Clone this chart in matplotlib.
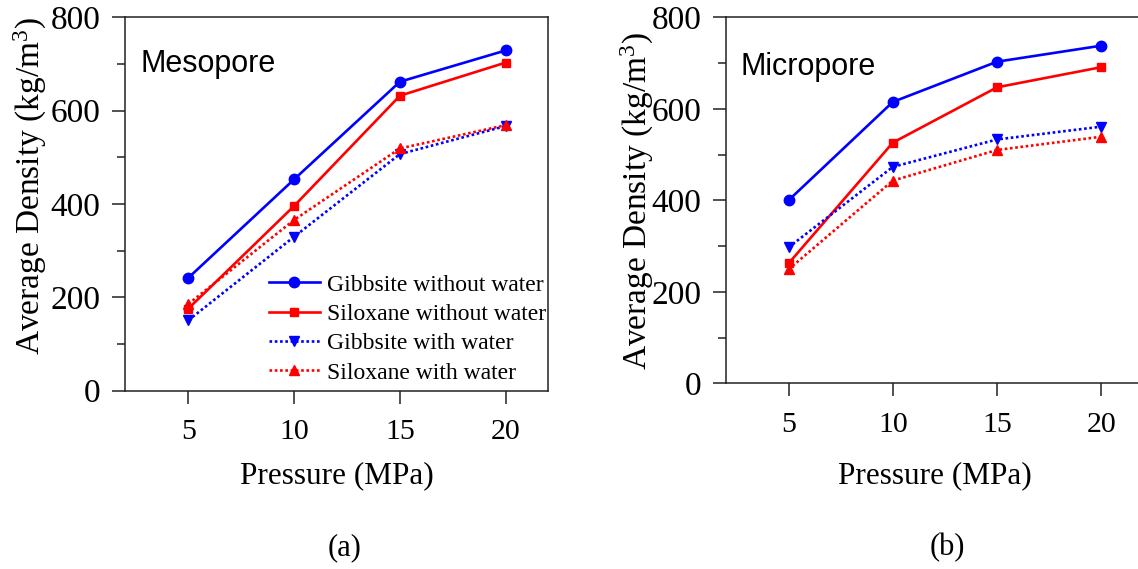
import matplotlib
matplotlib.use("Agg")
import matplotlib.pyplot as plt
from matplotlib.ticker import MultipleLocator

plt.rcParams["font.family"] = ["Liberation Serif", "DejaVu Serif"]
plt.rcParams["mathtext.fontset"] = "custom"
plt.rcParams["mathtext.rm"] = "Liberation Serif"
plt.rcParams["mathtext.it"] = "Liberation Serif:italic"

# Pressure (MPa)
pressure = [5, 10, 15, 20]

# Average density (kg/m^3), mesopore
meso_gibbsite_dry = [242, 453, 662, 729]
meso_siloxane_dry = [176, 396, 632, 703]
meso_gibbsite_wet = [151, 330, 507, 567]
meso_siloxane_wet = [186, 366, 519, 569]

# Average density (kg/m^3), micropore
micro_gibbsite_dry = [400, 615, 703, 738]
micro_siloxane_dry = [262, 526, 647, 691]
micro_gibbsite_wet = [297, 473, 533, 561]
micro_siloxane_wet = [249, 443, 510, 539]

series_labels = ["Gibbsite without water", "Siloxane without water",
                 "Gibbsite with water", "Siloxane with water"]
x_ticks = [5, 10, 15, 20]
y_ticks = [0, 200, 400, 600, 800]

BLUE = "#0000ff"
RED = "#ff0000"
DOT = (0, (1, 1))
styles = [
    dict(color=BLUE, ls="-", marker="o", ms=7.5),
    dict(color=RED, ls="-", marker="s", ms=6),
    dict(color=BLUE, ls=DOT, marker="v", ms=7.5),
    dict(color=RED, ls=DOT, marker="^", ms=7.5),
]

fig = plt.figure(figsize=(11.38, 5.69), dpi=100)
ax_a = fig.add_axes([0.10984, 0.31336, 0.3717, 0.65624])
ax_b = fig.add_axes([0.63796, 0.32636, 0.36643, 0.64323])


def draw_panel(ax, data, title, title_xy, xl_y, yl_xy):
    lines = []
    for vals, st, lab in zip(data, styles, series_labels):
        ln, = ax.plot(pressure, vals, lw=1.9, label=lab, mec=st["color"],
                      **st)
        lines.append(ln)
    ax.set_xlim(2, 22)
    ax.set_ylim(0, 800)
    ax.set_xticks(x_ticks)
    ax.set_yticks(y_ticks)
    ax.yaxis.set_minor_locator(MultipleLocator(100))
    ax.tick_params(axis="x", which="major", direction="out", length=9.5,
                   width=1.1, pad=11, labelsize=21.5, top=False,
                   color="#222222")
    ax.tick_params(axis="y", which="major", direction="out", length=9.5,
                   width=1.1, pad=8, labelsize=24, right=False,
                   color="#222222")
    ax.tick_params(axis="y", which="minor", direction="out", length=6,
                   width=1.1, right=False, color="#222222")
    for sp in ax.spines.values():
        sp.set_linewidth(1.1)
        sp.set_color("#222222")
    ax.set_xlabel("Pressure (MPa)", fontsize=22.5, va="center")
    ax.xaxis.set_label_coords(0.5, xl_y)
    ax.set_ylabel(r"Average Density (kg/m$^3$)", fontsize=24, va="center")
    ax.yaxis.set_label_coords(*yl_xy)
    ax.text(title_xy[0], title_xy[1], title, transform=ax.transAxes,
            fontsize=22, family="Liberation Sans", va="center", ha="left")
    return lines


lines = draw_panel(ax_a, [meso_gibbsite_dry, meso_siloxane_dry,
                          meso_gibbsite_wet, meso_siloxane_wet],
                   "Mesopore", (0.037, 0.875), -0.228, (-0.2246, 0.548))
draw_panel(ax_b, [micro_gibbsite_dry, micro_siloxane_dry,
                  micro_gibbsite_wet, micro_siloxane_wet],
           "Micropore", (0.034, 0.864), -0.253, (-0.213, 0.497))

ax_a.legend(handles=lines, loc="lower right", bbox_to_anchor=(1.012, 0.0),
            frameon=False, fontsize=17, handlelength=2.15,
            handletextpad=0.3, labelspacing=0.33, borderaxespad=0.15,
            borderpad=0.15)

fig.text(345 / 1138, 1 - 548 / 569, "(a)", fontsize=22, ha="center",
         va="center")
fig.text(947 / 1138, 1 - 548 / 569, "(b)", fontsize=22, ha="center",
         va="center")

fig.savefig("out.png", dpi=100)
